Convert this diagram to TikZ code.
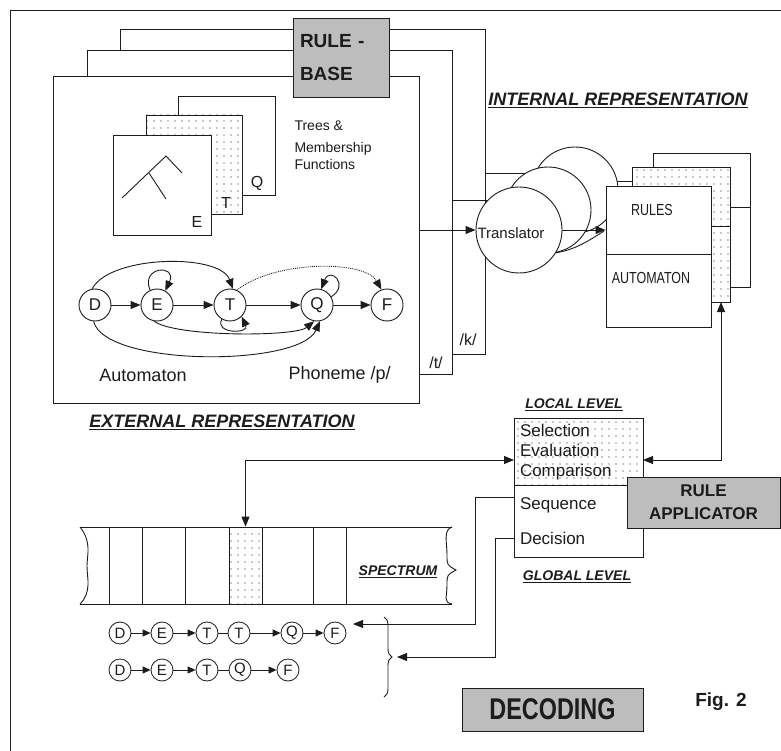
\documentclass[tikz,border=0pt]{standalone}
\usepackage{fontspec}
\setmainfont{Liberation Sans}
\newfontfamily\narrowsans[FakeStretch=0.78]{Liberation Sans}
\usetikzlibrary{arrows.meta,calc,positioning,patterns.meta,decorations.pathreplacing}
\definecolor{FigInk}{HTML}{1C1C1C}
\definecolor{FigShade}{HTML}{BDBDBD}
\definecolor{FigPaper}{HTML}{FFFFFF}
\tikzset{
  every node/.style={text=FigInk},
  sheet/.style={draw=FigInk, line width=0.9pt, fill=FigPaper},
  speckled/.style={draw=FigInk, line width=0.9pt, preaction={fill=FigPaper}, pattern={Dots[distance=7pt,radius=0.55pt]}, pattern color=FigInk},
  shaded/.style={draw=FigInk, line width=0.9pt, fill=FigShade},
  wire/.style={draw=FigInk, line width=0.9pt},
  flow/.style={wire, -{Triangle[length=10pt,width=8pt]}},
  twoway/.style={wire, {Triangle[length=10pt,width=8pt]}-{Triangle[length=10pt,width=8pt]}},
  tiny/.style={wire, -{Triangle[length=8pt,width=7pt]}},
  state/.style={circle, draw=FigInk, line width=0.9pt, fill=FigPaper, minimum size=32pt, inner sep=0pt, font=\fontsize{17}{20}\selectfont},
  token/.style={circle, draw=FigInk, line width=0.8pt, minimum size=22pt, inner sep=0pt, font=\fontsize{15}{17}\selectfont},
  disk/.style={circle, draw=FigInk, line width=0.9pt, fill=FigPaper, minimum size=86pt},
  heading/.style={font=\fontsize{18}{20}\selectfont\bfseries\itshape},
  minorhead/.style={font=\fontsize{14}{16}\selectfont\bfseries\itshape},
  body/.style={font=\fontsize{18}{21}\selectfont},
  caps/.style={font=\narrowsans\fontsize{16}{18}\selectfont},
}

\begin{document}
\begin{tikzpicture}[x=1pt,y=1pt]
  \useasboundingbox (0,0) rectangle (781,-751);
  % page frame, cut by the right and bottom edges
  \draw[wire] (10,-751) -- (10,-10) -- (781,-10);

  % rule base: three sheets, back to front
  \foreach \l/\t/\r/\b in {120/29/485/354, 87/50/452/374, 53/76/419/403}
    \draw[sheet] (\l,-\t) rectangle (\r,-\b);
  \node[shaded, minimum height=79pt, text width=82pt, inner sep=7pt, align=left,
        font=\fontsize{19}{33}\selectfont\bfseries] (base) at (341,-57.5) {RULE -\\BASE};

  % trees & membership functions
  \draw[sheet] (178,-96) rectangle (275,-195);
  \draw[speckled] (146,-115) rectangle (242,-214);
  \draw[sheet] (113,-135) rectangle (211,-235);
  \draw[wire] (122,-198) -- (166,-156) -- (182,-173);
  \draw[wire] (149,-173) -- (166,-199);
  \node[font=\fontsize{16}{18}\selectfont] (cardq) at (257,-183) {Q};
  \node[font=\fontsize{16}{18}\selectfont] (cardt) at (226,-203) {T};
  \node[font=\fontsize{16}{18}\selectfont] (carde) at (197,-222) {E};
  \node[anchor=north west, align=left, font=\fontsize{14}{17}\selectfont] (treetext) at (291,-117)
    {Trees \&\\[5pt]Membership\\Functions};

  % automaton of phoneme /p/
  \node[state] (d) at (95,-305) {D};
  \node[state] (e) at (157,-305) {E};
  \node[state] (t) at (230,-305) {T};
  \node[state] (q) at (317,-305) {Q};
  \node[state] (f) at (387,-305) {F};
  \draw[flow] (d) -- (e);
  \draw[flow] (e) -- (t);
  \draw[flow] (t) -- (q);
  \draw[flow] (q) -- (f);
  \draw[flow] (d.100) .. controls (110,-255) and (220,-253) .. (t.80);
  \draw[flow, densely dotted] (t.65) .. controls (275,-260) and (365,-260) .. (f.110);
  \draw[flow] (e.-100) .. controls (175,-337) and (295,-337) .. (q.-100);
  \draw[flow] (d.-95) .. controls (105,-367) and (300,-367) .. (q.-80);
  \draw[flow] (e.115) .. controls (140,-266) and (178,-264) .. (e.60);
  \draw[flow] (t.-120) .. controls (214,-334) and (250,-334) .. (t.-45);
  \draw[flow] (q.30) .. controls (350,-285) and (330,-266) .. (q.75);
  \node[body] (autolabel) at (143,-375) {Automaton};
  \node[body, anchor=west] (phon) at (285,-375) {Phoneme /p/};
  \node[font=\fontsize{16}{18}\selectfont] (tlabel) at (436,-363) {/t/};
  \node[font=\fontsize{16}{18}\selectfont] (klabel) at (468,-340) {/k/};
  \node[heading] (extrep) at (222,-422) {\underline{EXTERNAL REPRESENTATION}};
  \node[heading] (intrep) at (618,-100) {\underline{INTERNAL REPRESENTATION}};

  % translator
  \draw[wire] (485,-173) -- (540,-173);
  \draw[wire] (452,-200) -- (510,-200);
  \draw[wire] (580,-181) -- (632,-181);
  \draw[wire] (550,-208) -- (606,-208);
  \node[disk] (tb) at (575,-190) {};
  \node[disk] (tm) at (548,-210) {};
  \node[disk] (tf) at (519,-230) {};
  \node[font=\fontsize{15}{18}\selectfont] (trlabel) at (511,-233) {Translator};
  \draw[flow] (419,-230) -- (tf);

  % internal rules and automata
  \node[sheet, minimum width=97pt, minimum height=134pt] (rb3) at (701.5,-220) {};
  \node[speckled, minimum width=98pt, minimum height=135pt] (rb2) at (681,-234.5) {};
  \node[sheet, minimum width=105pt, minimum height=68pt] (rules) at (658.5,-220) {};
  \node[sheet, minimum width=105pt, minimum height=73pt] (auto) at (658.5,-290.5) {};
  \node[caps] (rulestext) at (652,-210) {RULES};
  \node[caps] (autotext) at (651,-278) {AUTOMATON};
  \draw[wire] (730,-207) -- (750,-207);
  \draw[wire] (711,-226) -- (730,-226);
  \draw[flow] (tf.east) -- (tf.east -| rules.west);
  \draw[wire] (tm.-80) .. controls (575,-250) and (590,-240) .. (604,-231);

  % rule applicator
  \node[minorhead] (loclabel) at (574,-405) {\underline{LOCAL LEVEL}};
  \node[speckled, minimum width=129pt, minimum height=66pt, text width=117pt, inner sep=6pt,
        align=left, font=\fontsize{17}{20}\selectfont] (loc) at (578.5,-452) {Selection\\Evaluation\\Comparison};
  \node[sheet, minimum width=129pt, minimum height=72pt, text width=117pt, inner sep=6pt,
        align=left, font=\fontsize{17}{35}\selectfont] (glob) at (578.5,-521) {Sequence\\Decision};
  \node[shaded, minimum width=153pt, minimum height=51pt, align=center,
        font=\fontsize{17}{23}\selectfont\bfseries] (applic) at (703.5,-502.5) {RULE\\APPLICATOR};
  \node[minorhead] (globlabel) at (577,-577) {\underline{GLOBAL LEVEL}};

  % spectrum
  \draw[wire] (80,-527) -- (452,-527);
  \draw[wire] (80,-604) -- (452,-604);
  \draw[wire] (80,-527) .. controls (92,-542) and (87,-555) .. (87,-566)
                        .. controls (87,-578) and (92,-592) .. (80,-604);
  \draw[wire] (452,-527) .. controls (443,-530) and (447,-542) .. (447,-555)
                         .. controls (447,-565) .. (456,-570)
                         .. controls (447,-575) .. (447,-585)
                         .. controls (447,-598) and (443,-602) .. (452,-604);
  \foreach \x in {109,142,185,313,346}
    \draw[wire] (\x,-527) -- (\x,-604);
  \node[speckled, minimum width=33pt, minimum height=77pt] (pick) at (245.5,-565.5) {};
  \node[minorhead] (speclabel) at (398,-572) {\underline{SPECTRUM}};

  % links between applicator, spectrum and rules
  \coordinate (locl) at (514,-460);
  \coordinate (locr) at (643,-460);
  \coordinate (auin) at (721,-302);
  \draw[twoway] (pick.north) |- (locl);
  \draw[twoway] (locr) -| (auin);

  % decoded phoneme sequences
  \foreach \n/\x/\s in {m1d/120/D, m1e/162/E, m1t/207/T, m1u/239/T, m1q/292/Q, m1f/335/F}
    \node[token] (\n) at (\x,-633) {\s};
  \foreach \n/\x/\s in {m2d/120/D, m2e/162/E, m2t/207/T, m2q/240/Q, m2f/288/F}
    \node[token] (\n) at (\x,-670) {\s};
  \draw[tiny] (m1d) -- (m1e);
  \draw[tiny] (m1e) -- (m1t);
  \draw[wire] (m1t) -- (m1u);
  \draw[tiny] (m1u) -- (m1q);
  \draw[tiny] (m1q) -- (m1f);
  \draw[tiny] (m2d) -- (m2e);
  \draw[tiny] (m2e) -- (m2t);
  \draw[wire] (m2t) -- (m2q);
  \draw[tiny] (m2q) -- (m2f);
  \draw[wire, decorate, decoration={brace, amplitude=8pt}] (384,-617) -- (384,-697);
  \coordinate (seqout) at (514,-497);
  \coordinate (seqin) at (353,-624);
  \coordinate (decout) at (514,-538);
  \coordinate (decin) at (397,-657);
  \draw[flow] (seqout) -- (475,-497) |- (seqin);
  \draw[flow] (decout) -- (495,-538) |- (decin);

  \node[shaded, minimum width=181pt, minimum height=43pt,
        font=\narrowsans\bfseries\fontsize{30}{32}\selectfont] (title) at (552.5,-709.5) {DECODING};
  \node[font=\fontsize{19}{22}\selectfont\bfseries] (fignum) at (721,-702) {Fig. 2};
\end{tikzpicture}
\end{document}
